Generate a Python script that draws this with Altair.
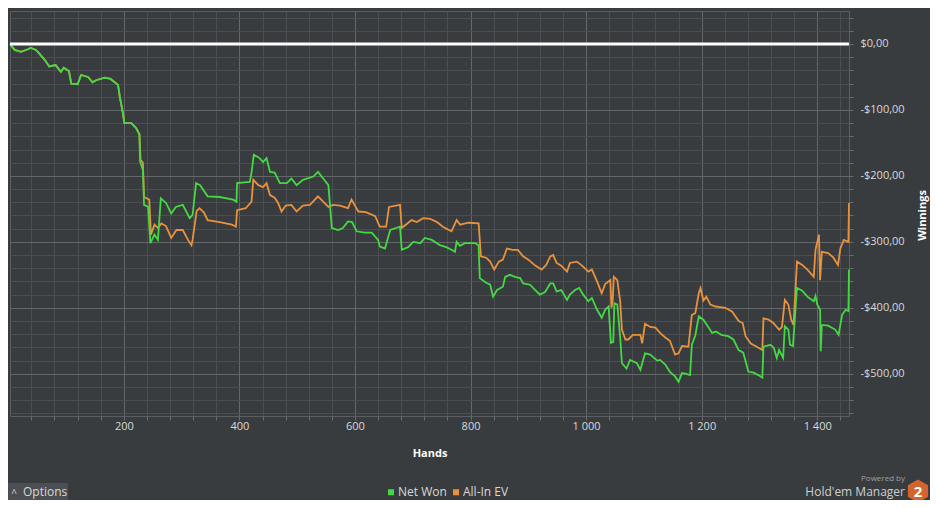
import altair as alt
import pandas as pd

# ---- data (hands, dollars) ----
net_hands = [3, 11, 22, 34, 39, 48, 53, 63, 71, 82, 91, 96, 105, 109, 120, 126, 138, 146, 152, 167,
             177, 190, 193, 198, 201, 213, 221, 227, 228, 233, 235, 242, 246, 253, 259, 264, 273, 282, 290, 302,
             314, 319, 325, 332, 345, 366, 389, 395, 396, 418, 421, 425, 435, 441, 447, 453, 461, 470, 482, 490,
             499, 510, 528, 536, 545, 554, 557, 560, 571, 579, 588, 595, 603, 617, 629, 640, 643, 652, 661, 678,
             681, 692, 701, 713, 721, 733, 747, 758, 767, 773, 776, 782, 790, 808, 814, 816, 827, 834, 839, 846,
             856, 860, 868, 877, 886, 891, 903, 912, 920, 929, 938, 943, 949, 957, 967, 972, 981, 988, 995, 1004,
             1010, 1019, 1027, 1033, 1039, 1043, 1047, 1049, 1054, 1059, 1062, 1070, 1076, 1088, 1094, 1102, 1111, 1123, 1128, 1137,
             1145, 1154, 1160, 1166, 1173, 1180, 1183, 1189, 1195, 1203, 1210, 1218, 1225, 1234, 1246, 1255, 1264, 1272, 1281, 1289,
             1298, 1305, 1307, 1319, 1325, 1330, 1334, 1341, 1344, 1350, 1353, 1358, 1365, 1374, 1383, 1394, 1397, 1400, 1405, 1406,
             1408, 1419, 1431, 1437, 1443, 1449, 1454, 1455]
net_won = [0, -9, -12, -8, -6, -9, -14, -24, -34, -32, -42, -36, -41, -60, -61, -47, -50, -58, -55, -51,
           -53, -62, -80, -103, -120, -120, -127, -137, -178, -191, -244, -247, -302, -289, -297, -234, -241, -257, -247, -244,
           -264, -259, -211, -214, -231, -232, -236, -239, -211, -209, -195, -168, -173, -179, -173, -194, -195, -211, -211, -204,
           -214, -206, -201, -194, -204, -214, -247, -279, -282, -279, -269, -270, -284, -286, -286, -297, -307, -310, -282, -277,
           -312, -308, -300, -302, -294, -297, -305, -308, -312, -315, -300, -306, -302, -302, -305, -355, -362, -365, -383, -373,
           -368, -353, -350, -353, -355, -363, -365, -373, -380, -376, -363, -363, -375, -373, -388, -380, -373, -370, -380, -390,
           -385, -403, -415, -403, -398, -453, -452, -393, -395, -445, -484, -492, -479, -484, -494, -469, -471, -480, -479, -486,
           -497, -504, -512, -499, -500, -502, -456, -442, -413, -418, -427, -438, -436, -441, -443, -448, -464, -468, -497, -498,
           -502, -506, -459, -456, -461, -476, -464, -476, -428, -433, -456, -458, -370, -374, -383, -390, -382, -395, -403, -466,
           -426, -427, -433, -441, -411, -403, -405, -342]

# All-In EV equals Net Won for the first 28 points, then:
ev_shared_points = 28
ev_tail_hands = [229, 233, 235, 244, 247, 253, 259, 265, 273, 282, 291, 302, 311, 317, 319, 326, 331, 339, 345, 366,
                 387, 394, 396, 411, 421, 424, 433, 441, 447, 453, 461, 467, 473, 480, 490, 499, 510, 522, 536, 545,
                 554, 562, 574, 588, 594, 600, 606, 619, 635, 643, 654, 659, 678, 681, 688, 698, 707, 718, 730, 742,
                 752, 767, 776, 782, 796, 814, 818, 827, 834, 841, 849, 856, 863, 872, 882, 891, 900, 912, 923, 931,
                 938, 943, 949, 957, 967, 972, 984, 993, 1004, 1010, 1019, 1027, 1033, 1042, 1044, 1046, 1048, 1054, 1059, 1062,
                 1068, 1073, 1081, 1094, 1097, 1102, 1111, 1120, 1128, 1137, 1145, 1154, 1160, 1166, 1177, 1183, 1189, 1195, 1198, 1203,
                 1208, 1215, 1224, 1232, 1241, 1253, 1264, 1271, 1276, 1285, 1293, 1305, 1307, 1316, 1324, 1334, 1339, 1344, 1350, 1355,
                 1359, 1365, 1374, 1383, 1394, 1397, 1403, 1405, 1408, 1419, 1428, 1436, 1440, 1446, 1454, 1455]
ev_tail_won = [-176, -180, -232, -236, -289, -274, -279, -272, -276, -294, -282, -282, -297, -305, -297, -253, -249, -256, -267, -270,
               -274, -277, -252, -249, -239, -206, -214, -217, -211, -229, -233, -241, -254, -245, -244, -254, -245, -244, -231, -239,
               -247, -244, -245, -249, -236, -245, -254, -255, -261, -277, -277, -247, -244, -279, -274, -267, -270, -264, -265, -270,
               -277, -284, -267, -274, -271, -272, -322, -324, -330, -342, -330, -327, -310, -312, -312, -322, -327, -336, -342, -335,
               -322, -320, -332, -336, -345, -332, -330, -336, -345, -342, -360, -378, -364, -358, -400, -388, -353, -358, -390, -433,
               -448, -448, -441, -441, -454, -424, -429, -430, -438, -445, -450, -471, -469, -458, -459, -411, -408, -378, -370, -389,
               -383, -395, -398, -399, -400, -406, -420, -423, -443, -454, -458, -464, -416, -418, -423, -433, -429, -388, -395, -418,
               -426, -330, -335, -342, -353, -312, -289, -358, -315, -317, -324, -335, -310, -297, -300, -241]

series_names = ["Net Won", "All-In EV"]
series_colors = ["#44d844", "#e8923e"]

x_ticks = list(range(40, 1455, 40))
y_ticks = list(range(-560, 41, 20))
x_domain = [3, 1455]
y_domain = [-564, 50]

ev_hands = net_hands[:ev_shared_points] + ev_tail_hands
ev_won = net_won[:ev_shared_points] + ev_tail_won

net_df = pd.DataFrame({"hand": net_hands, "won": net_won, "series": series_names[0]})
ev_df = pd.DataFrame({"hand": ev_hands, "won": ev_won, "series": series_names[1]})
zero_df = pd.DataFrame({"won": [0]})
ui_df = pd.DataFrame({"k": [0]})

# ---- styling ----
W, H = 839, 405
BG = "#393c3f"
MAJOR = "#64676a"
MINOR = "#4a4d51"
TXT = "#d8d8d8"

x_scale = alt.Scale(domain=x_domain, nice=False, zero=False)
y_scale = alt.Scale(domain=y_domain, nice=False, zero=False)
color_scale = alt.Scale(domain=series_names, range=series_colors)

x_axis = alt.Axis(
    values=x_ticks, tickCount=500, title="Hands", grid=True,
    gridColor={"condition": {"test": "datum.value % 200 === 0", "value": MAJOR}, "value": MINOR},
    labelExpr="datum.value % 200 === 0 ? (datum.value >= 1000 ? floor(datum.value / 1000) + ' ' + format(datum.value % 1000, '03d') : '' + datum.value) : ''",
    tickSize=4, labelPadding=0, labelFlush=False, labelOverlap=False, labelBound=False,
    titleX=W / 2, titleY=37, titleAlign="center", titleBaseline="middle",
)
y_axis = alt.Axis(
    values=y_ticks, tickCount=500, title="Winnings", orient="right", grid=True,
    gridColor={"condition": {"test": "datum.value % 100 === 0", "value": MAJOR}, "value": MINOR},
    labelExpr="datum.value % 100 === 0 ? (datum.value === 0 ? '$0,00' : '-$' + abs(datum.value) + ',00') : ''",
    tickSize=4, labelPadding=7, labelOverlap=False, labelBound=False, labelFlush=False,
    titleAngle=270, titleX=73, titleY=204, titleAlign="center", titleBaseline="middle",
)

legend = alt.Legend(
    orient="none", legendX=375, legendY=475, direction="horizontal", title=None,
    symbolType="square", symbolSize=9, symbolStrokeWidth=3, labelFontSize=12,
    labelColor=TXT, columnPadding=1, padding=0, labelOffset=1,
)

ev_line = alt.Chart(ev_df).mark_line(strokeWidth=1.8).encode(
    x=alt.X("hand:Q", scale=x_scale, axis=x_axis),
    y=alt.Y("won:Q", scale=y_scale, axis=y_axis),
    color=alt.Color("series:N", scale=color_scale, legend=legend),
)
net_line = alt.Chart(net_df).mark_line(strokeWidth=1.8).encode(
    x=alt.X("hand:Q", scale=x_scale),
    y=alt.Y("won:Q", scale=y_scale),
    color=alt.Color("series:N", scale=color_scale, legend=legend),
)
zero_rule = alt.Chart(zero_df).mark_rule(color="#ffffff", strokeWidth=3).encode(
    y=alt.Y("won:Q", scale=y_scale)
)

opt_rect = alt.Chart(ui_df).mark_rect(color="#4b4e52").encode(
    x=alt.value(-10), x2=alt.value(58), y=alt.value(472), y2=alt.value(500)
)
opt_caret = alt.Chart(ui_df).mark_text(text="^", fontSize=10, color=TXT, align="center", baseline="middle").encode(
    x=alt.value(4), y=alt.value(483)
)
opt_text = alt.Chart(ui_df).mark_text(text="Options", fontSize=12, color=TXT, align="left", baseline="middle").encode(
    x=alt.value(13), y=alt.value(481)
)
powered = alt.Chart(ui_df).mark_text(text="Powered by", fontSize=8, color="#a0a0a0", align="right", baseline="middle").encode(
    x=alt.value(895), y=alt.value(468)
)
hem = alt.Chart(ui_df).mark_text(text="Hold'em Manager", fontSize=12, color="#cfcfcf", align="right", baseline="middle").encode(
    x=alt.value(895), y=alt.value(481)
)
hexagon = alt.Chart(ui_df).mark_point(
    shape="M0,-1L0.87,-0.5L0.87,0.5L0,1L-0.87,0.5L-0.87,-0.5Z", filled=True, color="#d2652c", opacity=1, size=540
).encode(x=alt.value(908), y=alt.value(480))
two = alt.Chart(ui_df).mark_text(text="2", fontSize=15, fontWeight="bold", color="#ffffff", align="center", baseline="middle").encode(
    x=alt.value(908), y=alt.value(481)
)

chart = alt.layer(
    ev_line, net_line, zero_rule, opt_rect, opt_caret, opt_text, powered, hem, hexagon, two
).properties(
    width=W, height=H,
    autosize=alt.AutoSizeParams(type="none"),
    padding={"left": 2, "top": 3, "right": 81, "bottom": 84},
).configure(
    background=BG, font="Open Sans"
).configure_view(
    stroke="#5b5e61", strokeWidth=1
).configure_axis(
    labelColor=TXT, labelFontSize=11, titleColor="#ffffff", titleFontSize=11, titleFontWeight="bold",
    domain=False, tickColor="#6a6d70",
)

chart.save("out.html", embed_options={"renderer": "svg", "actions": False})
